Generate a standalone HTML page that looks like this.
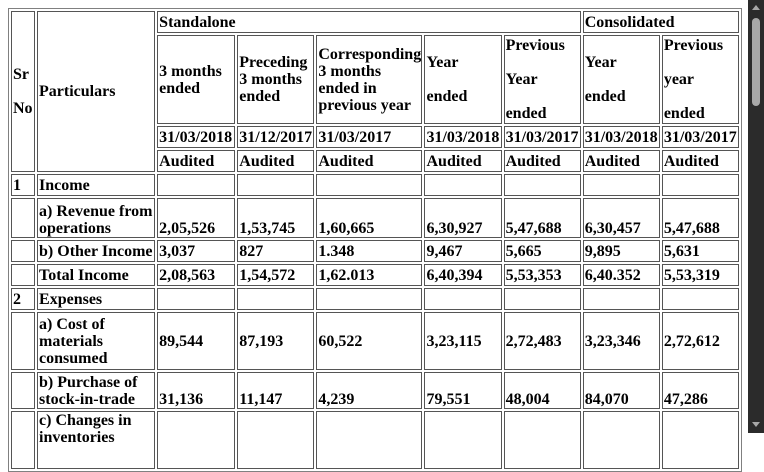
<!DOCTYPE html>
<html><head><meta charset="utf-8">
<style>
html,body{margin:0;padding:0;width:764px;height:433px;overflow:hidden;background:#fff;}
#wrap{position:absolute;left:8px;top:8px;}
table{border-collapse:separate;border-spacing:2px;border:1px solid #808080;table-layout:fixed;width:734px;
 font-family:"Liberation Serif",serif;font-weight:bold;font-size:16px;line-height:17px;color:#000;}
td{border:1px solid #555;padding:0 1px;box-sizing:border-box;vertical-align:middle;text-align:left;white-space:nowrap;overflow:hidden;}
td.w{white-space:normal;}
tr.b td{vertical-align:bottom;}
#sb{position:absolute;left:748px;top:0;width:16px;height:433px;background:#2b2b2b;}
#thumb{position:absolute;left:4px;top:18px;width:8px;height:88px;background:#a8a8a8;border-radius:4px;}
.arr{position:absolute;left:4px;width:0;height:0;border-left:4px solid transparent;border-right:4px solid transparent;}
</style></head><body>
<div id="wrap">
<table>
<colgroup><col style="width:24px"><col style="width:118px"><col style="width:78px"><col style="width:77px"><col style="width:106px"><col style="width:77px"><col style="width:77px"><col style="width:77px"><col style="width:77px"></colgroup>
<tr style="height:22px">
<td rowspan="4">Sr<br><br>No</td>
<td rowspan="4">Particulars</td>
<td colspan="5">Standalone</td>
<td colspan="2">Consolidated</td></tr>
<tr style="height:89px">
<td class="w">3 months ended</td>
<td class="w">Preceding 3 months ended</td>
<td class="w">Corresponding 3 months ended in previous year</td>
<td>Year<br><br>ended</td>
<td>Previous<br><br>Year<br><br>ended</td>
<td>Year<br><br>ended</td>
<td>Previous<br><br>year<br><br>ended</td></tr>
<tr style="height:22px">
<td>31/03/2018</td><td>31/12/2017</td><td>31/03/2017</td><td>31/03/2018</td><td>31/03/2017</td><td>31/03/2018</td><td>31/03/2017</td></tr>
<tr style="height:22px">
<td>Audited</td><td>Audited</td><td>Audited</td><td>Audited</td><td>Audited</td><td>Audited</td><td>Audited</td></tr>
<tr style="height:22px">
<td>1</td><td>Income</td><td></td><td></td><td></td><td></td><td></td><td></td><td></td></tr>
<tr class="b" style="height:40px">
<td></td><td class="w">a) Revenue from operations</td><td>2,05,526</td><td>1,53,745</td><td>1,60,665</td><td>6,30,927</td><td>5,47,688</td><td>6,30,457</td><td>5,47,688</td></tr>
<tr style="height:22px">
<td></td><td>b) Other Income</td><td>3,037</td><td>827</td><td>1.348</td><td>9,467</td><td>5,665</td><td>9,895</td><td>5,631</td></tr>
<tr style="height:22px">
<td></td><td>Total Income</td><td>2,08,563</td><td>1,54,572</td><td>1,62.013</td><td>6,40,394</td><td>5,53,353</td><td>6,40.352</td><td>5,53,319</td></tr>
<tr style="height:22px">
<td>2</td><td>Expenses</td><td></td><td></td><td></td><td></td><td></td><td></td><td></td></tr>
<tr style="height:58px">
<td></td><td class="w">a) Cost of materials consumed</td><td>89,544</td><td>87,193</td><td>60,522</td><td>3,23,115</td><td>2,72,483</td><td>3,23,346</td><td>2,72,612</td></tr>
<tr class="b" style="height:37px">
<td></td><td class="w">b) Purchase of stock-in-trade</td><td>31,136</td><td>11,147</td><td>4,239</td><td>79,551</td><td>48,004</td><td>84,070</td><td>47,286</td></tr>
<tr style="height:58px;vertical-align:top">
<td></td><td class="w" style="vertical-align:top">c) Changes in inventories</td><td></td><td></td><td></td><td></td><td></td><td></td><td></td></tr>
</table></div>
<div id="sb">
<div class="arr" style="top:5px;border-bottom:5px solid #a8a8a8;"></div>
<div id="thumb"></div>
<div class="arr" style="top:422px;border-top:5px solid #a8a8a8;"></div>
</div>
</body></html>
